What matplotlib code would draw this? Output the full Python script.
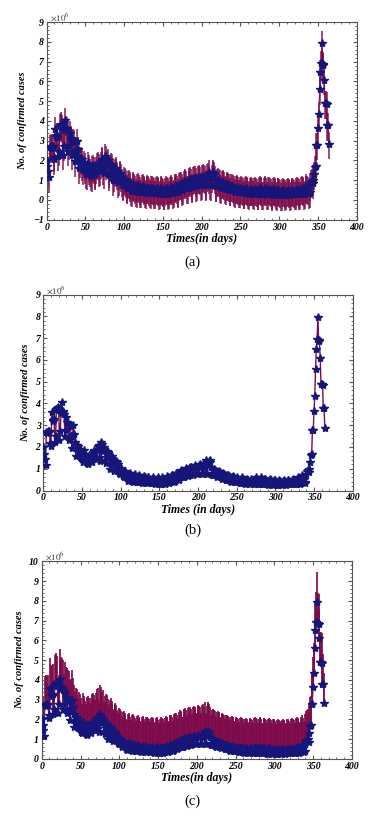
import matplotlib.pyplot as plt
from matplotlib.ticker import MultipleLocator

plt.rcParams['mathtext.fontset'] = 'stix'

# daily confirmed cases (x10^6), day 0 .. 364, one week per row
cases = [
    2.0, 1.7, 1.45, 1.15, 2.7, 2.65, 2.75,
    2.7, 2.75, 2.2, 2.05, 3.6, 3.25, 3.2,
    3.3, 2.25, 2.5, 3.75, 3.8, 3.85, 3.7,
    2.3, 2.75, 3.55, 4.05, 3.65, 3.6, 3.5,
    2.5, 2.8, 3.4, 3.15, 3.1, 2.3, 3.0,
    2.95, 2.5, 1.95, 2.55, 3.0, 2.6, 2.25,
    1.6, 1.9, 2.1, 2.05, 1.75, 1.55, 1.9,
    1.8, 1.6, 1.35, 1.3, 1.85, 1.7, 1.55,
    1.45, 1.25, 1.2, 1.65, 1.7, 1.6, 1.35,
    1.3, 1.6, 1.8, 1.85, 1.75, 1.45, 1.5,
    1.85, 2.05, 2.1, 1.55, 1.35, 2.25, 2.15,
    1.8, 1.9, 2.0, 1.4, 1.25, 1.7, 1.8,
    1.75, 1.55, 1.0, 1.2, 1.5, 1.6, 1.45,
    1.3, 0.9, 1.0, 1.35, 1.3, 1.2, 0.95,
    0.8, 0.75, 1.05, 1.0, 0.9, 0.65, 0.6,
    0.85, 0.9, 0.8, 0.7, 0.5, 0.45, 0.75,
    0.8, 0.7, 0.6, 0.45, 0.4, 0.7, 0.75,
    0.65, 0.55, 0.4, 0.4, 0.65, 0.7, 0.6,
    0.55, 0.4, 0.35, 0.6, 0.65, 0.6, 0.5,
    0.4, 0.35, 0.6, 0.6, 0.55, 0.5, 0.35,
    0.35, 0.55, 0.6, 0.55, 0.5, 0.3, 0.35,
    0.55, 0.6, 0.5, 0.45, 0.3, 0.3, 0.5,
    0.6, 0.55, 0.5, 0.3, 0.35, 0.55, 0.65,
    0.6, 0.55, 0.35, 0.4, 0.65, 0.7, 0.7,
    0.6, 0.4, 0.45, 0.75, 0.8, 0.8, 0.7,
    0.5, 0.55, 0.85, 0.95, 0.9, 0.85, 0.6,
    0.6, 0.95, 1.0, 1.05, 0.95, 0.65, 0.7,
    1.05, 1.1, 1.1, 1.0, 0.7, 0.75, 1.1,
    1.15, 1.1, 1.05, 0.75, 0.8, 1.15, 1.2,
    1.15, 1.1, 0.75, 0.8, 1.2, 1.25, 1.1,
    1.4, 0.8, 0.75, 1.15, 1.35, 1.4, 1.3,
    1.1, 0.7, 0.7, 0.95, 1.0, 0.95, 0.9,
    0.65, 0.6, 0.85, 0.9, 0.85, 0.8, 0.6,
    0.55, 0.75, 0.8, 0.75, 0.7, 0.5, 0.5,
    0.7, 0.7, 0.65, 0.6, 0.45, 0.4, 0.6,
    0.65, 0.6, 0.55, 0.4, 0.4, 0.55, 0.6,
    0.55, 0.5, 0.35, 0.35, 0.55, 0.6, 0.55,
    0.5, 0.35, 0.3, 0.5, 0.55, 0.5, 0.5,
    0.35, 0.3, 0.5, 0.55, 0.5, 0.45, 0.3,
    0.3, 0.55, 0.6, 0.55, 0.5, 0.3, 0.3,
    0.5, 0.6, 0.55, 0.5, 0.3, 0.3, 0.55,
    0.55, 0.5, 0.45, 0.3, 0.25, 0.5, 0.55,
    0.5, 0.45, 0.3, 0.25, 0.5, 0.5, 0.45,
    0.4, 0.25, 0.25, 0.45, 0.5, 0.45, 0.4,
    0.25, 0.3, 0.45, 0.5, 0.45, 0.4, 0.25,
    0.3, 0.5, 0.5, 0.45, 0.4, 0.3, 0.3,
    0.5, 0.55, 0.5, 0.45, 0.3, 0.3, 0.55,
    0.6, 0.55, 0.5, 0.3, 0.35, 0.6, 0.7,
    0.6, 0.55, 0.35, 0.4, 0.75, 0.9, 0.95,
    1.0, 0.85, 1.3, 1.65, 1.7, 2.8, 2.8,
    3.65, 4.35, 5.6, 6.5, 6.95, 7.95, 6.9,
    6.85, 6.1, 4.9, 4.9, 4.85, 3.8, 3.8,
    2.85,
]
days = list(range(len(cases)))

# spread of the simulated paths around the data (x10^6): [below, above]
spread_a = [0.8, 0.6]
spread_c = [0.1, 1.5]

panels = ['(a)', '(b)', '(c)']
xlabels = ['Times(in days)', 'Times (in days)', 'Times(in days)']
ylims = [(-1, 9), (0, 9), (0, 10)]

MAROON = '#7d0a4a'
NAVY = '#15157a'
SERIF = ['Liberation Serif', 'DejaVu Serif']

fig = plt.figure(figsize=(3.76, 8.23), dpi=100)
boxes = [
    [0.124, 0.733, 0.825, 0.240],
    [0.115, 0.404, 0.823, 0.238],
    [0.111, 0.078, 0.825, 0.240],
]
caption_y = [0.673, 0.347, 0.018]

for i, box in enumerate(boxes):
    ax = fig.add_axes(box)
    if i == 0:
        ax.errorbar(days, cases, yerr=[[spread_a[0]] * len(days), [spread_a[1]] * len(days)],
                    fmt='-', color=MAROON, ecolor=MAROON, elinewidth=1.2, lw=0.8,
                    alpha=0.85, zorder=1)
    elif i == 2:
        ax.errorbar(days, cases, yerr=[[spread_c[0]] * len(days), [spread_c[1]] * len(days)],
                    fmt='-', color=MAROON, ecolor=MAROON, elinewidth=1.3, lw=0.8,
                    alpha=0.95, zorder=1)
    else:
        ax.plot(days, cases, '-', color=MAROON, lw=1.0, zorder=1)
    ax.plot(days, cases, '*', color=NAVY, ms=6, mec=NAVY, zorder=3)

    ax.set_xlim(0, 400)
    ax.set_ylim(*ylims[i])
    ax.xaxis.set_major_locator(MultipleLocator(50))
    ax.xaxis.set_minor_locator(MultipleLocator(10))
    ax.yaxis.set_major_locator(MultipleLocator(1))
    ax.yaxis.set_minor_locator(MultipleLocator(0.2))
    ax.tick_params(which='both', direction='in', top=True, right=True,
                   labelsize=7, pad=2, color='#555555')
    ax.tick_params(which='major', length=3)
    ax.tick_params(which='minor', length=1.5)
    for lab in ax.get_xticklabels() + ax.get_yticklabels():
        lab.set_family(SERIF)
        lab.set_style('italic')
        lab.set_weight('bold')
    for sp in ax.spines.values():
        sp.set_color('#555555')
        sp.set_linewidth(0.8)

    ax.set_xlabel(xlabels[i], family=SERIF, style='italic', weight='bold',
                  fontsize=8.5, labelpad=1)
    ax.set_ylabel('No. of confirmed cases', family=SERIF, style='italic',
                  weight='bold', fontsize=7.5, labelpad=4)
    ax.text(0.01, 0.995, r'$\times10^{6}$', transform=ax.transAxes, fontsize=6.5,
            ha='left', va='bottom', color='#333333')

    fig.text(0.513, caption_y[i], panels[i], family=SERIF, fontsize=10.5,
             ha='center', va='bottom')

fig.savefig('out.png', dpi=100)
